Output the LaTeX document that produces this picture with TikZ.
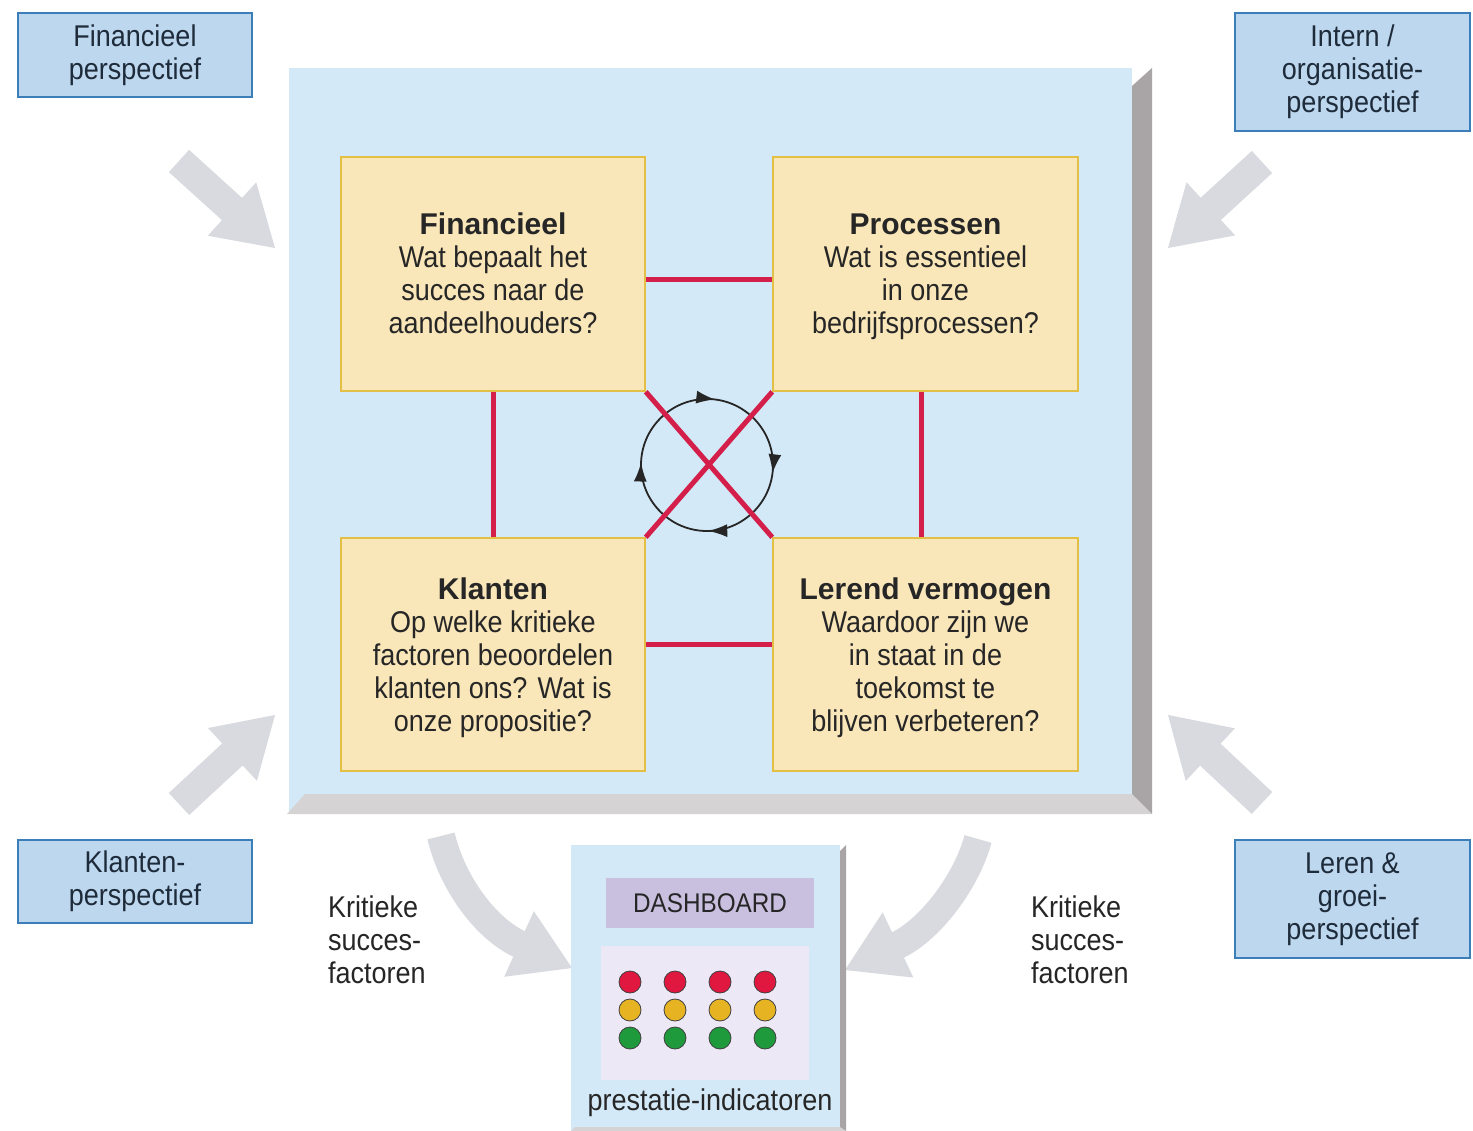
\documentclass[tikz,border=0pt]{standalone}
\usepackage{fontspec}
\setmainfont{Liberation Sans}
\newfontfamily\bodyfont{Liberation Sans}[FakeStretch=0.9]
\newfontfamily\titlefont{Liberation Sans}
\usetikzlibrary{calc,arrows.meta,decorations.markings}

\definecolor{perspfill}{HTML}{BDD7EE}
\definecolor{perspline}{HTML}{3C7FB8}
\definecolor{panelfill}{HTML}{D3E9F7}
\definecolor{shadelight}{HTML}{D6D3D4}
\definecolor{shadedark}{HTML}{A9A5A7}
\definecolor{quadfill}{HTML}{F9E6B9}
\definecolor{quadline}{HTML}{E3BF45}
\definecolor{linkred}{HTML}{D41F4A}
\definecolor{arrowgray}{HTML}{D8DADF}
\definecolor{labelfill}{HTML}{C9C0E0}
\definecolor{lightsfill}{HTML}{EDE8F5}
\definecolor{textdark}{HTML}{262626}
\definecolor{navytext}{HTML}{1E2B3A}
\definecolor{lampred}{HTML}{E0173F}
\definecolor{lampyellow}{HTML}{E6B422}
\definecolor{lampgreen}{HTML}{1E9A3C}

% block arrow from a tail point to a tip point
\newcommand\blockarrow[2]{%
  \coordinate (ba-base) at ($(#2)!58pt!(#1)$);
  \fill[arrowgray] ($(#1)!15pt!90:(#2)$) -- ($(ba-base)!15pt!-90:(#1)$)
    -- ($(ba-base)!36pt!-90:(#1)$) -- (#2) -- ($(ba-base)!36pt!90:(#1)$)
    -- ($(ba-base)!15pt!90:(#1)$) -- ($(#1)!15pt!-90:(#2)$) -- cycle;}
% triangular head sitting on a base point, aimed at a tip point
\newcommand\arrowhead[2]{%
  \fill[arrowgray] ($(#1)!36pt!90:(#2)$) -- (#2) -- ($(#1)!36pt!-90:(#2)$) -- cycle;}
% fixed top and bottom room so every box sets its lines on the same baselines
\newcommand\firstline{\rule{0pt}{28pt}}
\newcommand\lastline{\rule[-7pt]{0pt}{7pt}}

\begin{document}
\begin{tikzpicture}[x=1pt,y=-1pt,
  bodytext/.style={font=\bodyfont\fontsize{30}{33}\selectfont, text=textdark},
  persp/.style={draw=perspline, fill=perspfill, line width=1.5pt, inner sep=0pt,
    align=center, font=\bodyfont\fontsize{30}{33}\selectfont, text=navytext},
  quad/.style={draw=quadline, fill=quadfill, line width=1.5pt, inner sep=0pt,
    minimum width=304pt, minimum height=234pt, align=center,
    font=\bodyfont\fontsize{30}{33}\selectfont, text=textdark},
  link/.style={draw=linkred, line width=5pt},
  shaft/.style={draw=arrowgray, line width=28pt},
  cycline/.style={draw=black!85, line width=1.8pt, postaction={decorate},
    decoration={markings,
      mark=at position 0.23 with {\arrowreversed{Latex[length=19pt,width=13pt]}},
      mark=at position 0.494 with {\arrowreversed{Latex[length=19pt,width=13pt]}},
      mark=at position 0.753 with {\arrowreversed{Latex[length=19pt,width=13pt]}},
      mark=at position 0.98 with {\arrowreversed{Latex[length=19pt,width=13pt]}}}},
  lamp/.style={draw=black!75, line width=0.8pt}]

\useasboundingbox[fill=white] (0,0) rectangle (1473,1131);

% perspective labels in the corners
\node[persp, minimum width=234pt, minimum height=84pt] (pfin) at (135,55) {Financieel\\perspectief};
\node[persp, minimum width=235pt, minimum height=118pt] (pint) at (1352.5,72) {Intern /\\organisatie-\\perspectief};
\node[persp, minimum width=234pt, minimum height=83pt] (pkla) at (135,881.5) {Klanten-\\perspectief};
\node[persp, minimum width=235pt, minimum height=118pt] (pler) at (1352.5,899) {Leren \&\\groei-\\perspectief};

% diagonal arrows towards the central panel
\coordinate (tl-tail) at (179,161);  \coordinate (tl-tip) at (275,248);
\coordinate (tr-tail) at (1262,162); \coordinate (tr-tip) at (1168,248);
\coordinate (bl-tail) at (179,804);  \coordinate (bl-tip) at (275,715);
\coordinate (br-tail) at (1262,803); \coordinate (br-tip) at (1168,715);
\blockarrow{tl-tail}{tl-tip}
\blockarrow{tr-tail}{tr-tip}
\blockarrow{bl-tail}{bl-tip}
\blockarrow{br-tail}{br-tip}

% central panel with bevelled shadow
\node[fill=panelfill, inner sep=0pt, minimum width=843pt, minimum height=746pt] (panel) at (710.5,441) {};
\fill[shadelight] (305,794) -- (1132,794) -- (1152,814) -- (287,814) -- cycle;
\fill[shadedark] (1132,86) -- (1152,68) -- (1152,814) -- (1132,794) -- cycle;

% four perspectives
\node[quad] (fin) at (493,274) {\firstline{\titlefont\bfseries Financieel}\\Wat bepaalt het\\succes naar de\\aandeelhouders?\lastline};
\node[quad, minimum width=305pt] (proc) at (925.5,274) {\firstline{\titlefont\bfseries Processen}\\Wat is essentieel\\in onze\\bedrijfsprocessen?\lastline};
\node[quad, minimum height=233pt] (klant) at (493,654.5) {\firstline{\titlefont\bfseries Klanten}\\Op welke kritieke\\factoren beoordelen\\klanten ons? Wat is\\onze propositie?\lastline};
\node[quad, minimum width=305pt, minimum height=233pt] (leer) at (925.5,654.5) {\firstline{\titlefont\bfseries Lerend vermogen}\\Waardoor zijn we\\in staat in de\\toekomst te\\blijven verbeteren?\lastline};

% cycle in the middle
\coordinate (cyc) at (707,465);
\draw[cycline] (cyc) circle[radius=66pt];

% links between the perspectives
\draw[link] ([yshift=-6pt]fin.east) -- ([yshift=-6pt]proc.west);
\draw[link] ([yshift=10pt]klant.east) -- ([yshift=10pt]leer.west);
\draw[link] (fin.south) -- (klant.north);
\draw[link] ([xshift=-4pt]proc.south) -- ([xshift=-4pt]leer.north);
\draw[link] (fin.south east) -- (leer.north west);
\draw[link] (proc.south west) -- (klant.north east);

% curved arrows into the dashboard
\coordinate (lc-tail) at (441,836); \coordinate (lc-base) at (519,944); \coordinate (lc-tip) at (572,968);
\coordinate (rc-tail) at (978,839); \coordinate (rc-base) at (898,945); \coordinate (rc-tip) at (845,970);
\draw[shaft] (lc-tail) .. controls (452,882) and (485,929) .. ($(lc-base)!3pt!(lc-tip)$);
\arrowhead{lc-base}{lc-tip}
\draw[shaft] (rc-tail) .. controls (967,880) and (931,930) .. ($(rc-base)!3pt!(rc-tip)$);
\arrowhead{rc-base}{rc-tip}

\node[bodytext, anchor=west, align=left, inner sep=0pt] (ksfl) at (328,940) {Kritieke\\succes-\\factoren};
\node[bodytext, anchor=west, align=left, inner sep=0pt] (ksfr) at (1031,940) {Kritieke\\succes-\\factoren};

% dashboard
\node[fill=panelfill, inner sep=0pt, minimum width=269pt, minimum height=286pt] (dash) at (705.5,988) {};
\fill[shadedark] (840,851) -- (846,845) -- (846,1131) -- (840,1131) -- cycle;
\fill[shadelight] (575,1127) -- (840,1127) -- (846,1131) -- (571,1131) -- cycle;
\node[fill=labelfill, inner sep=0pt, minimum width=208pt, minimum height=50pt,
  font=\bodyfont\fontsize{27}{30}\selectfont, text=textdark] (dlabel) at (710,903) {DASHBOARD};
\node[fill=lightsfill, inner sep=0pt, minimum width=208pt, minimum height=134pt] (lights) at (705,1013) {};
\foreach \lx in {630,675,720,765} {
  \filldraw[lamp, fill=lampred] (\lx,982) circle[radius=11pt];
  \filldraw[lamp, fill=lampyellow] (\lx,1010) circle[radius=11pt];
  \filldraw[lamp, fill=lampgreen] (\lx,1038) circle[radius=11pt];
}
\node[bodytext, inner sep=0pt] (kpi) at (710,1103) {prestatie-indicatoren};

\end{tikzpicture}
\end{document}
